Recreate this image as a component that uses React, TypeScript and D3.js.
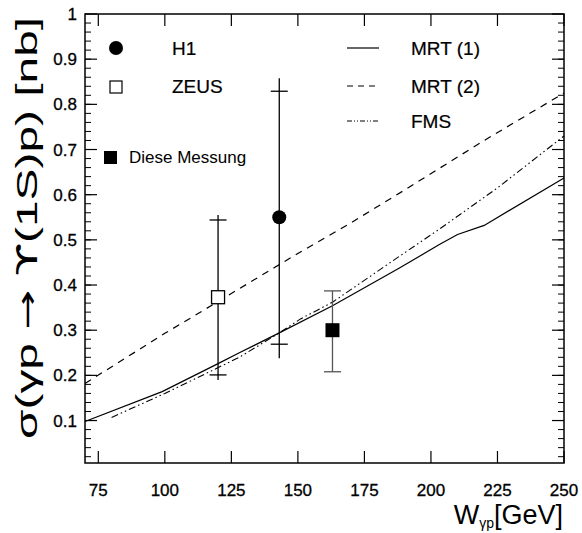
import React from 'react'
import * as d3 from 'd3'

// theory curves [W, sigma]
const mrt1: [number, number][] = [
  [70, 0.098], [99, 0.164], [120, 0.226], [128, 0.25], [143, 0.294], [163, 0.354],
  [188, 0.437], [203, 0.489], [210, 0.512], [220, 0.532], [250, 0.637],
]
const mrt2: [number, number][] = [
  [70, 0.182], [100, 0.293], [110, 0.328], [150, 0.47], [170, 0.538],
  [190, 0.61], [220, 0.72], [250, 0.825],
]
const fms: [number, number][] = [
  [80, 0.107], [100, 0.16], [128, 0.24], [143, 0.294], [151, 0.325], [163, 0.362],
  [188, 0.463], [203, 0.523], [225, 0.615], [250, 0.73],
]

// measurements
const h1 = { w: 143, s: 0.55, statLo: 0.269, statHi: 0.829, totLo: 0.238, totHi: 0.858 }
const zeus = { w: 120, s: 0.373, statLo: 0.201, statHi: 0.544, totLo: 0.19, totHi: 0.555 }
const messung = { w: 163, s: 0.3, statLo: 0.208, statHi: 0.387, totLo: 0.208, totHi: 0.387 }

const xTicks = [75, 100, 125, 150, 175, 200, 225, 250]
const yTicks = [0.1, 0.2, 0.3, 0.4, 0.5, 0.6, 0.7, 0.8, 0.9, 1]
const yMinor = d3.range(0.02, 1.0, 0.02)

const font = 'Liberation Sans, Arial, Helvetica, sans-serif'
const sym = 'DejaVu Sans, sans-serif'

export default function App() {
  const left = 85, right = 564, top = 14, bottom = 463
  const x = d3.scaleLinear().domain([70, 250]).range([left, right])
  const y = d3.scaleLinear().domain([0.006, 1]).range([bottom, top])
  const line = d3.line<[number, number]>().x(d => x(d[0])).y(d => y(d[1]))

  const errBar = (p: typeof h1, color: string) => (
    <g stroke={color} strokeWidth={1.3}>
      <line x1={x(p.w)} x2={x(p.w)} y1={y(p.totLo)} y2={y(p.totHi)} />
      <line x1={x(p.w) - 8.5} x2={x(p.w) + 8.5} y1={y(p.statLo)} y2={y(p.statLo)} />
      <line x1={x(p.w) - 8.5} x2={x(p.w) + 8.5} y1={y(p.statHi)} y2={y(p.statHi)} />
    </g>
  )

  return (
    <svg width={582} height={533} style={{ position: 'absolute', left: 0, top: 0, background: '#fff' }}>
      <rect x={0} y={0} width={582} height={533} fill="#fff" />
      {/* curves */}
      <path d={line(mrt1) || ''} fill="none" stroke="#000" strokeWidth={1.2} />
      <path d={line(mrt2) || ''} fill="none" stroke="#000" strokeWidth={1.2} strokeDasharray="7,6" />
      <path d={line(fms) || ''} fill="none" stroke="#000" strokeWidth={1.1} strokeDasharray="7,3,1.5,3,1.5,3" />

      {/* data */}
      {errBar(zeus, '#000')}
      {errBar(h1, '#000')}
      {errBar(messung, '#555')}
      <circle cx={x(h1.w)} cy={y(h1.s)} r={7} fill="#000" />
      <rect x={x(zeus.w) - 6.5} y={y(zeus.s) - 6.5} width={13} height={13} fill="#fff" stroke="#000" strokeWidth={1.3} />
      <rect x={x(messung.w) - 7} y={y(messung.s) - 7} width={14} height={14} fill="#000" />

      {/* frame */}
      <rect x={left} y={top} width={right - left} height={bottom - top} fill="none" stroke="#000" strokeWidth={1.5} />
      {xTicks.map(t => (
        <g key={t}>
          <line x1={x(t)} x2={x(t)} y1={bottom} y2={bottom - 12} stroke="#000" strokeWidth={1.2} />
          <line x1={x(t)} x2={x(t)} y1={top} y2={top + 12} stroke="#000" strokeWidth={1.2} />
          <text x={x(t)} y={496} textAnchor="middle" fontFamily={font} fontSize={17} stroke="#000" strokeWidth={0.3}>{t}</text>
        </g>
      ))}
      {yMinor.map(t => (
        <g key={t}>
          <line x1={left} x2={left + 6} y1={y(t)} y2={y(t)} stroke="#000" strokeWidth={1} />
          <line x1={right} x2={right - 6} y1={y(t)} y2={y(t)} stroke="#000" strokeWidth={1} />
        </g>
      ))}
      {yTicks.map(t => (
        <g key={t}>
          <line x1={left} x2={left + 12} y1={y(t)} y2={y(t)} stroke="#000" strokeWidth={1.2} />
          <line x1={right} x2={right - 12} y1={y(t)} y2={y(t)} stroke="#000" strokeWidth={1.2} />
          <text x={77} y={y(t) + 6} textAnchor="end" fontFamily={font} fontSize={17} stroke="#000" strokeWidth={0.3}>{d3.format('~g')(t)}</text>
        </g>
      ))}

      {/* axis titles */}
      <text x={563} y={524} textAnchor="end" fontFamily={font} fontSize={27}>
        W<tspan fontSize={14} dy={4}>γp</tspan><tspan dy={-4}>[GeV]</tspan>
      </text>
      <text transform="translate(37,228) rotate(-90)" textAnchor="middle" fontFamily={font} fontSize={29}
        textLength={422} lengthAdjust="spacingAndGlyphs">
        σ(γp <tspan fontFamily={sym}>→</tspan> <tspan fontFamily={sym}>ϒ</tspan>(1S)p) [nb]
      </text>

      {/* legend */}
      <circle cx={116} cy={48} r={7} fill="#000" />
      <text x={172} y={55} fontFamily={font} fontSize={19} stroke="#000" strokeWidth={0.2}>H1</text>
      <rect x={110} y={81} width={12} height={12} fill="#fff" stroke="#000" strokeWidth={1.2} />
      <text x={172} y={93} fontFamily={font} fontSize={19} stroke="#000" strokeWidth={0.2}>ZEUS</text>
      <rect x={104} y={151} width={13} height={13} fill="#000" />
      <text x={129} y={163} fontFamily={font} fontSize={17}>Diese Messung</text>

      <line x1={347} x2={379} y1={48} y2={48} stroke="#000" strokeWidth={1.2} />
      <text x={411} y={55} fontFamily={font} fontSize={19} stroke="#000" strokeWidth={0.2}>MRT (1)</text>
      <line x1={347} x2={379} y1={86} y2={86} stroke="#000" strokeWidth={1.1} strokeDasharray="6,5" />
      <text x={411} y={93} fontFamily={font} fontSize={19} stroke="#000" strokeWidth={0.2}>MRT (2)</text>
      <line x1={347} x2={379} y1={121} y2={121} stroke="#000" strokeWidth={1} strokeDasharray="5,2,1,2,1,2" />
      <text x={411} y={128} fontFamily={font} fontSize={19} stroke="#000" strokeWidth={0.2}>FMS</text>
    </svg>
  )
}
